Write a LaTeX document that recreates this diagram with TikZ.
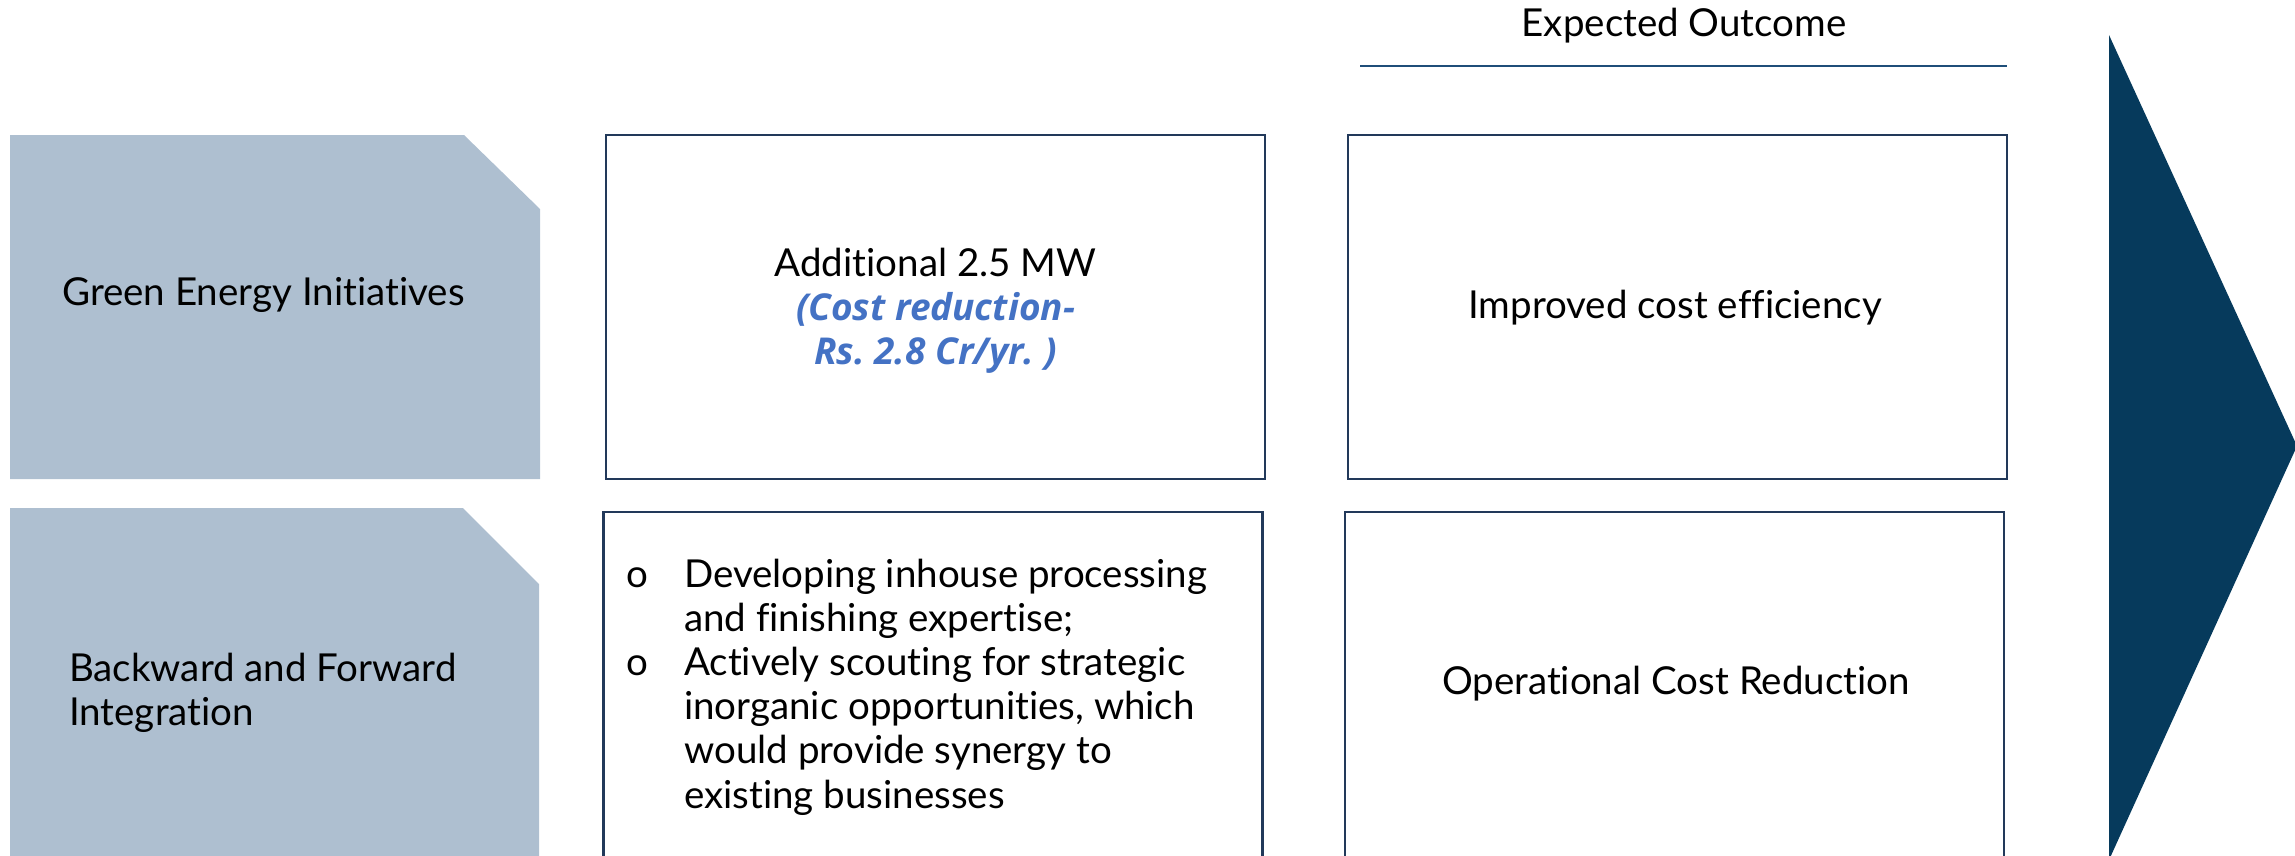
\documentclass[tikz,border=0pt]{standalone}
\usepackage{fontspec}
\setmainfont{Lato}[Ligatures={NoCommon}]
\newfontfamily\bluefont{Open Sans}
\definecolor{sidefill}{HTML}{AEBFD0}
\definecolor{navy}{HTML}{063A5C}
\definecolor{bordc}{HTML}{22395A}
\definecolor{rulec}{HTML}{1F4E79}
\definecolor{blu}{HTML}{4472C4}
\frenchspacing
\begin{document}
\begin{tikzpicture}[x=1pt,y=-1pt,
  sideshape/.style={fill=sidefill},
  boxshape/.style={draw=bordc, line width=2.5pt, fill=white},
  txt/.style={font=\fontsize{38.5}{44.2}\selectfont, text=black, inner sep=0pt},
  smalltxt/.style={font=\fontsize{38.5}{44}\selectfont, text=black, inner sep=0pt}]
\useasboundingbox (0,0) rectangle (2295,855);
\clip (0,0) rectangle (2295,855);

% left chamfered shapes
\fill[sideshape] (10,135) -- (464,135) -- (540,209) -- (540,479) -- (10,479) -- cycle;
\fill[sideshape] (10,508) -- (463,508) -- (539,584) -- (539,870) -- (10,870) -- cycle;
\node[txt, anchor=base west] (gei) at (62,305) {Green Energy Initiatives};
\node[txt, anchor=base west] (bfi) at (69,681)
  {\begin{tabular}[t]{@{}l@{}}Backward and Forward\\Integration\end{tabular}};

% middle boxes
\node[boxshape, minimum width=659pt, minimum height=344pt, inner sep=0pt] (m1) at (935.5,307) {};
\node[boxshape, minimum width=659pt, minimum height=370pt, inner sep=0pt] (m2) at (933,697) {};
\node[txt, anchor=base] (m1t) at (935.5,276)
  {\begin{tabular}[t]{@{}c@{}}Additional 2.5 MW\\
   \textcolor{blu}{\bluefont\fontsize{37}{44.5}\selectfont\bfseries\itshape (Cost reduction-}\\
   \textcolor{blu}{\bluefont\fontsize{37}{44.5}\selectfont\bfseries\itshape Rs. 2.8 Cr/yr. )}\end{tabular}};
\node[txt, anchor=base west] (m2t) at (626,587)
  {\begin{tabular}[t]{@{}l@{}l@{}}
   \makebox[58pt][l]{o} & Developing inhouse processing\\
    & and finishing expertise;\\
   \makebox[58pt][l]{o} & Actively scouting for strategic\\
    & inorganic opportunities, which\\
    & would provide synergy to\\
    & existing businesses\end{tabular}};

% right boxes
\node[boxshape, minimum width=659pt, minimum height=344pt, inner sep=0pt] (r1) at (1677.5,307) {};
\node[boxshape, minimum width=659pt, minimum height=370pt, inner sep=0pt] (r2) at (1674.5,697) {};
\node[txt, anchor=base] (r1t) at (1675,318) {Improved cost efficiency};
\node[txt, anchor=base] (r2t) at (1676,694) {Operational Cost Reduction};

% header
\node[smalltxt, anchor=base] (hdr) at (1684,36) {Expected Outcome};
\coordinate (rl) at (1360,66);
\coordinate (rr) at (2007,66);
\draw[rulec, line width=1.5pt] (rl) -- (rr);

% big arrow
\fill[navy] (2109,35) -- (2297,446) -- (2109,860) -- cycle;
\end{tikzpicture}
\end{document}
